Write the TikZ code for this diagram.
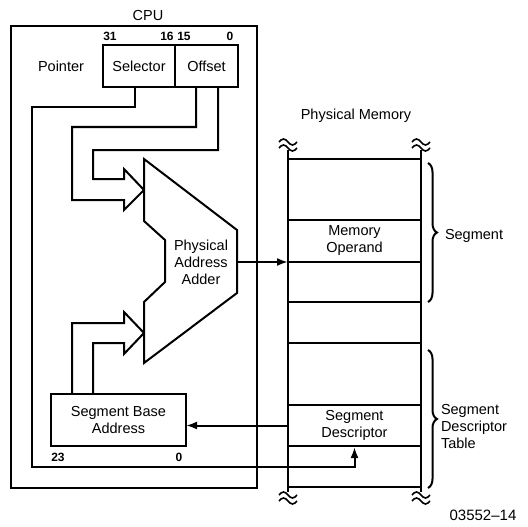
\documentclass[tikz,border=0pt]{standalone}
\usepackage{fontspec}
\setmainfont{Liberation Sans}
\usetikzlibrary{arrows.meta,positioning,decorations.pathreplacing,calc}

\begin{document}
\begin{tikzpicture}[x=1pt, y=-1pt,
  font=\fontsize{14.5}{17}\selectfont,
  line width=2pt,
  reg/.style={draw, minimum height=42pt, inner sep=0pt, outer sep=0pt, align=center},
  cell/.style={minimum width=133pt, inner sep=0pt, align=center},
  bits/.style={font=\fontsize{12}{14}\selectfont\bfseries, inner sep=0pt},
  lbl/.style={inner sep=0pt, align=center},
  wave/.style={line width=1.6pt},
  >={Latex[length=11pt,width=8pt]}]
  \useasboundingbox (0,0) rectangle (528,527);
  % CPU side
  \draw (11,26) rectangle (257,488);
  \node[lbl] (cpu) at (148,16) {CPU};
  \node[lbl] (ptr) at (61,66) {Pointer};
  \node[reg, minimum width=72pt] (sel) at (139,66) {Selector};
  \node[reg, minimum width=63pt, right=0pt of sel] (off) {Offset};
  \node[bits] (b31) at (110,36) {31};
  \node[bits] (b16) at (167,36) {16};
  \node[bits] (b15) at (184,36) {15};
  \node[bits] (b0) at (230,36) {0};
  % adder
  \draw (144,159) -- (237,230) -- (237,293) -- (144,363) -- (144,302)
    -- (165,282) -- (165,240) -- (144,221) -- cycle;
  \node[lbl] (adder) at (201,262) {Physical\\Address\\Adder};
  \coordinate (tipA) at (144,190);
  \coordinate (tipB) at (144,333);
  \coordinate (addout) at (237,262);
  \node[reg, minimum width=135pt, minimum height=52pt] (sba) at (118.5,420) {Segment Base\\Address};
  \node[bits] (b23) at (58,457) {23};
  \node[bits] (bz) at (179,457) {0};
  % memory
  \coordinate (memL) at (288,150);
  \coordinate (memR) at (421,150);
  \draw (memL) -- (288,492);
  \draw (memR) -- (421,492);
  \foreach \y in {159,220,262,302,343,405,446,487}
    \draw (288,\y) -- (421,\y);
  \foreach \bx in {288,421}
    \foreach \by in {145,498} {
      \draw[wave] (\bx-9,\by-3) sin (\bx-4.5,\by-6) cos (\bx,\by-3) sin (\bx+4.5,\by) cos (\bx+9,\by-3);
      \draw[wave] (\bx-9,\by+3) sin (\bx-4.5,\by) cos (\bx,\by+3) sin (\bx+4.5,\by+6) cos (\bx+9,\by+3);
    }
  \node[lbl] (phys) at (356,116) {Physical Memory};
  \node[cell, minimum height=42pt] (operand) at (354.5,241) {Memory\\Operand};
  \node[cell, minimum height=41pt] (desc) at (354.5,425.5) {Segment\\Descriptor};
  \draw[decorate, decoration={brace, amplitude=9pt}] (428,163) -- (428,302);
  \draw[decorate, decoration={brace, amplitude=9pt}] (428,350) -- (428,488);
  \node[lbl, anchor=west] (seg) at (444,236) {Segment};
  \node[lbl, anchor=west, align=left] (sdt) at (440,427) {Segment\\Descriptor\\Table};
  \node[lbl, font=\fontsize{15}{17}\selectfont] (fig) at (483,515) {03552--14};
  % buses
  \draw ([xshift=11.5pt]off.south) |- (93,150) |- (124,179) -- (124,169) -- (tipA);
  \draw ([xshift=-10.5pt]off.south) |- (72,127) |- (124,200) -- (124,210) -- (tipA);
  \draw ([xshift=-46.5pt]sba.north) |- (124,323) -- (124,312) -- (tipB);
  \draw ([xshift=-25.5pt]sba.north) |- (124,343) -- (124,354) -- (tipB);
  \draw[->] ([xshift=-4pt]sel.south) |- (32,107) |- (desc.south |- 0,467) -- (desc.south);
  \draw[->] (addout) -- (addout -| memL);
  \draw[->] (desc.west) -- (desc.west -| sba.east);
\end{tikzpicture}
\end{document}
